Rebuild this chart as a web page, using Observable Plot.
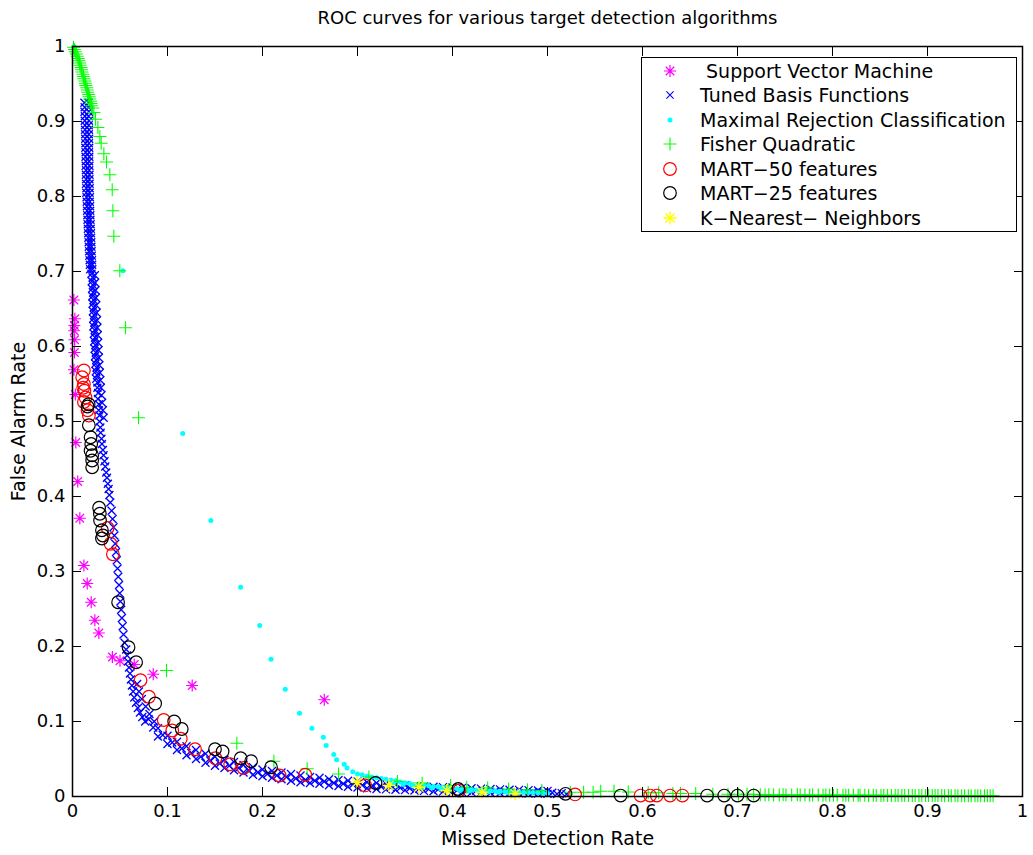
<!DOCTYPE html>
<html><head><meta charset="utf-8">
<script src="https://cdn.jsdelivr.net/npm/d3@7"></script>
<script src="https://cdn.jsdelivr.net/npm/@observablehq/plot@0.6"></script>
<style>
body{margin:0;background:#fff;}
#wrap{position:relative;width:1033px;height:855px;font-family:"DejaVu Sans",sans-serif;background:#fff;}
#legend{position:absolute;left:641px;top:57px;width:376px;height:175px;border:1.3px solid #000;background:#fff;box-sizing:border-box;}
.row{position:absolute;left:0;height:24px;width:370px;font-size:19px;white-space:pre;}
.row svg{position:absolute;left:18px;top:2px;}
.row span{position:absolute;left:58px;top:0;line-height:24px;}
</style></head><body><div id="wrap"></div>
<script>
// ---------- data ----------
const title = "ROC curves for various target detection algorithms";
const xLabel = "Missed Detection Rate";
const yLabel = "False Alarm Rate";
const xTicks = [0, 0.1, 0.2, 0.3, 0.4, 0.5, 0.6, 0.7, 0.8, 0.9, 1];
const yTicks = [0, 0.1, 0.2, 0.3, 0.4, 0.5, 0.6, 0.7, 0.8, 0.9, 1];
const seriesNames = [" Support Vector Machine", "Tuned Basis Functions", "Maximal Rejection Classification", "Fisher Quadratic", "MART\u221250 features", "MART\u221225 features", "K\u2212Nearest\u2212 Neighbors"];
const seriesColors = ["#ff00ff", "#0000ff", "#00ffff", "#00ff00", "#ff0000", "#000000", "#ffff00"];

const svm = [[.0014,.662],[.0025,.637],[.002,.628],[.0018,.621],[.0022,.609],[.002,.592],[.0015,.569],[.003,.536],[.0035,.472],[.0055,.42],[.0077,.371],[.012,.308],[.0155,.284],[.0197,.259],[.0235,.235],[.0277,.218],[.042,.186],[.05,.181],[.065,.176],[.085,.163],[.126,.148],[.265,.129]];

const tbfTop = [[.0125,.925],[.0170,.925],[.0128,.919],[.0168,.919],[.0126,.913],[.0172,.913],[.0130,.907],[.0170,.907],[.0129,.901],[.0173,.901],[.0131,.895],[.0171,.895],[.0132,.889],[.0174,.889],[.0133,.883],[.0172,.883],[.0134,.877],[.0175,.877],[.0136,.871],[.0173,.871],[.0135,.865],[.0176,.865],[.0138,.859],[.0174,.859],[.0137,.853],[.0177,.853],[.0140,.847],[.0175,.847],[.0139,.841],[.0178,.841],[.0142,.835],[.0176,.835],[.0141,.829],[.0179,.829],[.0144,.823],[.0178,.823],[.0143,.817],[.0180,.817],[.0146,.811],[.0181,.811],[.0145,.805],[.0180,.805],[.0148,.799],[.0183,.799],[.0150,.793],[.0182,.793],[.0152,.787],[.0185,.787],[.0154,.781],[.0186,.781],[.0156,.775],[.0188,.775],[.0158,.769],[.0189,.769],[.0160,.763],[.0191,.763],[.0162,.757],[.0192,.757],[.0165,.751],[.0194,.751],[.0167,.745],[.0196,.745],[.0170,.739],[.0198,.739],[.0172,.733],[.0199,.733],[.0175,.727],[.0201,.727],[.0177,.721],[.0203,.721],[.0180,.715],[.0205,.715],[.0183,.709],[.0207,.709],[.0186,.703],[.0209,.703]];
const tbfMid = [[.0200,.697],[.0212,.692],[.0203,.687],[.0215,.682],[.0206,.677],[.0218,.672],[.0209,.667],[.0221,.662],[.0212,.657],[.0224,.652],[.0215,.647],[.0227,.642],[.0218,.637],[.0230,.632],[.0221,.627],[.0233,.622],[.0225,.617],[.0237,.612],[.0229,.607],[.0241,.602],[.0233,.597],[.0245,.592],[.0237,.587],[.0249,.582],[.0241,.577],[.0253,.572],[.0246,.567],[.0258,.562],[.0250,.557],[.0262,.552],
[.0262,.545],[.0270,.538],[.0268,.530],[.0277,.523],[.0276,.515],[.0284,.508],[.0285,.500],[.0293,.492],[.0296,.485],[.0305,.477],[.0310,.470],[.0320,.462],[.0327,.455],[.0337,.447],[.0345,.440],[.0355,.432],[.0363,.425],[.0372,.417],[.0380,.410],[.0388,.402]];
const tbfMid2 = [[.0235,.695],[.0238,.685],[.0242,.675],[.0246,.665],[.0250,.655],[.0254,.645],[.0258,.635],[.0262,.625],[.0266,.615],[.0270,.605],[.0274,.595],[.0278,.585],[.0283,.575],[.0288,.565],[.0293,.555],[.0299,.545],[.0305,.535],[.0312,.525],[.0320,.515],[.0328,.505]];
const tbfKnee = [[.0398,.392],[.0412,.381],[.0422,.370],[.0432,.359],[.0441,.348],[.0450,.337],[.0458,.326],[.0466,.315],[.0474,.304],[.0482,.293],[.0490,.282],[.0497,.271],[.0504,.260],[.0512,.249],[.0520,.238],[.0528,.227],[.0537,.216],[.0548,.205],
[.0565,.196],[.0575,.188],[.0585,.180],[.0595,.172],[.0605,.164],[.0615,.156],[.0625,.148],[.0638,.140],[.0650,.132],[.0668,.125],[.0688,.118],[.0710,.112],[.0735,.106],[.0765,.100],
[.068,.150],[.070,.140],[.073,.130],[.077,.120],[.081,.110],[.086,.100]];
const tbfTailUpper = [[.08,.103],[.09,.091],[.10,.081],[.11,.073],[.12,.067],[.13,.062],[.14,.057],[.15,.053],[.16,.049],[.17,.046],[.18,.042],[.19,.039],[.20,.036],[.21,.034],[.22,.032],[.23,.030],[.24,.028],[.25,.026],[.26,.025],[.27,.023],[.28,.022],[.29,.021],[.30,.020],[.31,.019],[.32,.018],[.33,.017],[.34,.016],[.35,.015],[.36,.014],[.37,.0135],[.38,.013],[.39,.0125],[.40,.012],[.41,.0115],[.42,.011],[.43,.0105],[.44,.010],[.45,.0095],[.46,.009],[.47,.0088],[.48,.0085],[.49,.008],[.50,.0075]];
const tbfTailMid = [[.085,.092],[.095,.082],[.105,.072],[.115,.064],[.125,.058],[.135,.053],[.145,.048],[.155,.044],[.165,.041],[.175,.038],[.185,.035],[.195,.032],[.205,.030],[.215,.028],[.225,.026],[.235,.024],[.245,.022],[.255,.021],[.265,.020],[.275,.018],[.285,.017],[.295,.016],[.305,.015],[.315,.014],[.325,.013],[.335,.012],[.345,.0115],[.355,.011],[.365,.0105],[.375,.010],[.385,.0095],[.395,.009],[.405,.0085],[.415,.008],[.425,.0078],[.435,.0075],[.445,.007],[.455,.0068],[.465,.0065],[.475,.006],[.485,.0058],[.495,.0055],[.505,.005],[.515,.0045]];
const tbfTailLower = [[.09,.080],[.10,.070],[.11,.062],[.12,.055],[.13,.050],[.14,.045],[.15,.041],[.16,.038],[.17,.035],[.18,.032],[.19,.029],[.20,.027],[.21,.025],[.22,.023],[.23,.021],[.24,.019],[.25,.018],[.26,.017],[.27,.015],[.28,.014],[.29,.013],[.30,.012],[.31,.011],[.32,.010],[.33,.0095],[.34,.009],[.35,.0085],[.36,.008],[.37,.0075],[.38,.007],[.39,.0065],[.40,.006],[.41,.0058],[.42,.0055],[.43,.0052],[.44,.005],[.45,.0048],[.46,.0045],[.47,.0042],[.48,.004],[.49,.0038],[.50,.0035],[.51,.0033],[.52,.003]];

const mrc = [[.0015,1.0],[.053,.701],[.116,.484],[.1456,.368],[.177,.279],[.197,.228],[.209,.183],[.224,.143],[.239,.111],[.252,.091],[.264,.079],[.267,.068],[.275,.056],[.278,.049],[.286,.043],[.289,.038],[.295,.033],[.300,.030]];
const mrcTail = [[.305,.029],[.31,.027],[.315,.026],[.32,.025],[.325,.024],[.33,.023],[.335,.022],[.34,.021],[.345,.0195],[.35,.0185],[.355,.0175],[.36,.0165],[.365,.0155],[.37,.015],[.375,.0142],[.38,.0135],[.385,.013],[.39,.0122],[.395,.0115],[.40,.011],[.405,.0105],[.41,.010],[.415,.0095],[.42,.009],[.425,.0087],[.43,.0083],[.435,.008],[.44,.0077],[.445,.0074],[.45,.0071],[.455,.0068],[.46,.0065],[.465,.0062],[.47,.006],[.475,.0058],[.48,.0055],[.485,.0053],[.49,.005],[.495,.0048],[.50,.0045],
[.338,.018],[.348,.016],[.358,.014],[.368,.0125],[.378,.0112],[.388,.010],[.398,.009],[.408,.008],[.418,.0072],[.428,.0066],[.438,.006],[.448,.0056],[.458,.0052],[.468,.0048]];

const fisherTop = [[.001,.999],[.002,.996],[.003,.993],[.004,.99],[.005,.987],[.006,.984],[.007,.981],[.0075,.978],[.008,.975],[.009,.972],[.0095,.969],[.010,.966],[.011,.963],[.0115,.96],[.012,.957],[.013,.954],[.0135,.951],[.014,.948],[.015,.945],[.0155,.942],[.016,.939],[.017,.936],[.0175,.933],[.018,.93],[.019,.927],[.0195,.924],[.020,.921]];
const fisher = [[.0214,.918],[.0225,.912],[.0242,.903],[.0267,.892],[.0288,.880],[.0302,.871],[.033,.857],[.0358,.846],[.0393,.829],[.0418,.809],[.0425,.781],[.0435,.747],[.0498,.701],[.0558,.625],[.0695,.505],[.099,.168],[.173,.071],[.212,.047],[.247,.037],[.28,.030],[.312,.026],[.342,.020],[.368,.0178],[.398,.0147],[.415,.0124],[.437,.0116],[.459,.010],[.479,.009],[.494,.008],[.524,.0056],[.538,.0056],[.548,.0056],[.556,.007],[.570,.007],[.585,.006],[.606,.005],[.617,.005],[.632,.004],[.640,.004],[.656,.004],[.674,.003],[.690,.003],[.701,.003],[.710,.003],[.717,.003]];
const fisherTailX = [.724,.729,.733,.738,.744,.748,.751,.757,.763,.766,.771,.776,.779,.785,.790,.793,.797,.801,.805,.811,.814,.817,.822,.827,.829,.834,.838,.843,.846,.851,.854,.858,.862,.866,.869,.873,.876,.880,.884,.887,.891,.894,.898,.901,.905,.908,.911,.915,.918,.922,.925,.929,.932,.936,.939,.943,.946,.950,.953,.956,.960,.963,.966,.969];
const fisherTailY = [.0025,.002,.0025,.002,.002,.0025,.002,.002,.0022,.002,.002,.0018,.002,.002,.0018,.002,.0018,.0018,.002,.0017,.0018,.0016,.0017,.0016,.0018,.0016,.0015,.0016,.0015,.0015,.0016,.0014,.0015,.0014,.0015,.0014,.0013,.0014,.0013,.0014,.0013,.0013,.0012,.0013,.0012,.0013,.0012,.0012,.0011,.0012,.0011,.0012,.0011,.0011,.001,.0011,.001,.0011,.001,.001,.001,.001,.001,.001];

const mart50 = [[.012,.568],[.0102,.559],[.012,.55],[.0113,.545],[.0126,.541],[.0137,.532],[.012,.526],[.0158,.515],[.0172,.508],[.037,.358],[.04,.337],[.0425,.323],[.0716,.155],[.0804,.133],[.096,.102],[.105,.088],[.114,.077],[.129,.063],[.1505,.051],[.166,.043],[.18,.038],[.218,.028],[.245,.029],[.308,.0147],[.407,.008],[.529,.0027],[.598,.0013],[.608,.0013],[.615,.0013],[.629,.0013],[.642,.0013]];
const mart25 = [[.017,.523],[.0158,.52],[.0172,.495],[.019,.479],[.0197,.47],[.019,.461],[.0207,.455],[.0207,.448],[.0207,.439],[.028,.385],[.0288,.377],[.029,.368],[.031,.355],[.032,.348],[.031,.344],[.048,.259],[.059,.199],[.067,.179],[.087,.124],[.107,.1],[.115,.09],[.15,.063],[.158,.06],[.177,.051],[.188,.047],[.209,.039],[.319,.018],[.406,.01],[.519,.0036],[.577,.0013],[.668,.0013],[.686,.0013],[.70,.0013],[.717,.0013]];
const knn = [[.2996,.019],[.333,.0147],[.3646,.0124],[.394,.008],[.431,.0056],[.466,.0036]];

// ---------- symbols (MATLAB-like markers) ----------
const symAsterisk = {draw(c, s) { const r = Math.sqrt(s / Math.PI), d = r * 0.7071;
  c.moveTo(-r, 0); c.lineTo(r, 0); c.moveTo(0, -r); c.lineTo(0, r);
  c.moveTo(-d, -d); c.lineTo(d, d); c.moveTo(-d, d); c.lineTo(d, -d); }};
const symTimes = {draw(c, s) { const r = Math.sqrt(s / Math.PI);
  c.moveTo(-r, -r); c.lineTo(r, r); c.moveTo(-r, r); c.lineTo(r, -r); }};
const symPlus = {draw(c, s) { const r = Math.sqrt(s / Math.PI);
  c.moveTo(-r, 0); c.lineTo(r, 0); c.moveTo(0, -r); c.lineTo(0, r); }};
const symCircle = {draw(c, s) { const r = Math.sqrt(s / Math.PI);
  c.moveTo(r, 0); c.arc(0, 0, r, 0, 2 * Math.PI); }};
const symDot = {draw(c, s) { const r = Math.sqrt(s / Math.PI);
  c.moveTo(r, 0); c.arc(0, 0, r, 0, 2 * Math.PI); }};

const styles = [
  {symbol: symAsterisk, r: 6, strokeWidth: 1.2, fill: false},
  {symbol: symTimes, r: 4, strokeWidth: 1.3, fill: false},
  {symbol: symDot, r: 2.5, strokeWidth: 0, fill: true},
  {symbol: symPlus, r: 6.5, strokeWidth: 1.1, fill: false},
  {symbol: symCircle, r: 6.3, strokeWidth: 1.2, fill: false},
  {symbol: symCircle, r: 6.3, strokeWidth: 1.2, fill: false},
  {symbol: symAsterisk, r: 6.5, strokeWidth: 1.4, fill: false}
];
const legendR = [6, 3.6, 2.5, 6.5, 6.3, 6.3, 6.5];

const fisherTail = fisherTailX.map((x, i) => [x, fisherTailY[i]]);
const seriesData = [
  svm,
  [...tbfTop, ...tbfMid, ...tbfMid2, ...tbfKnee, ...tbfTailUpper, ...tbfTailMid, ...tbfTailLower],
  [...mrc, ...mrcTail],
  [...fisherTop, ...fisher, ...fisherTail],
  mart50,
  mart25,
  knn
];

function dotMark(data, i) {
  const st = styles[i];
  return Plot.dot(data, {
    x: d => d[0], y: d => d[1],
    symbol: st.symbol, r: st.r,
    fill: st.fill ? seriesColors[i] : "none",
    stroke: st.fill ? "none" : seriesColors[i],
    strokeWidth: st.strokeWidth
  });
}

const fmt = d => String(d);
const chart = Plot.plot({
  width: 1033, height: 855,
  marginLeft: 72, marginRight: 11, marginTop: 46, marginBottom: 59,
  x: {domain: [0, 1]},
  y: {domain: [0, 1]},
  style: {fontFamily: "DejaVu Sans", fontSize: "18px", background: "white", color: "black", overflow: "visible"},
  marks: [
    ...seriesData.map((d, i) => dotMark(d, i)),
    Plot.frame({stroke: "black", strokeWidth: 1.5}),
    Plot.axisX(xTicks, {anchor: "bottom", tickSize: 0, tickPadding: 8, tickFormat: fmt, label: null, fontSize: 18}),
    Plot.axisY(yTicks, {anchor: "left", tickSize: 0, tickPadding: 7, tickFormat: fmt, label: null, fontSize: 18}),
    Plot.axisX(xTicks, {anchor: "bottom", tickSize: -9, tickFormat: () => "", label: null}),
    Plot.axisX(xTicks, {anchor: "top", tickSize: -9, tickFormat: () => "", label: null}),
    Plot.axisY(yTicks, {anchor: "left", tickSize: -9, tickFormat: () => "", label: null}),
    Plot.axisY(yTicks, {anchor: "right", tickSize: -9, tickFormat: () => "", label: null}),
    Plot.text([title], {frameAnchor: "top", dy: -28, textAnchor: "middle", lineAnchor: "middle", fontSize: 18}),
    Plot.text([xLabel], {frameAnchor: "bottom", dy: 42, textAnchor: "middle", lineAnchor: "middle", fontSize: 19}),
    Plot.text([yLabel], {frameAnchor: "left", dx: -54, rotate: -90, textAnchor: "middle", lineAnchor: "middle", fontSize: 19})
  ]
});

const wrap = document.getElementById("wrap");
wrap.appendChild(chart);

// ---------- legend ----------
const legend = document.createElement("div");
legend.id = "legend";
seriesNames.forEach((name, i) => {
  const row = document.createElement("div");
  row.className = "row";
  row.style.top = (1 + i * 24.45) + "px";
  const st = styles[i];
  const p = d3.path();
  st.symbol.draw(p, legendR[i] * legendR[i] * Math.PI);
  const svg = d3.create("svg").attr("width", 20).attr("height", 20);
  svg.append("path")
    .attr("transform", "translate(10,10)")
    .attr("d", p.toString())
    .attr("fill", st.fill ? seriesColors[i] : "none")
    .attr("stroke", st.fill ? "none" : seriesColors[i])
    .attr("stroke-width", i === 1 ? 1.1 : st.strokeWidth);
  row.appendChild(svg.node());
  const span = document.createElement("span");
  span.textContent = name;
  row.appendChild(span);
  legend.appendChild(row);
});
wrap.appendChild(legend);
</script></body></html>
